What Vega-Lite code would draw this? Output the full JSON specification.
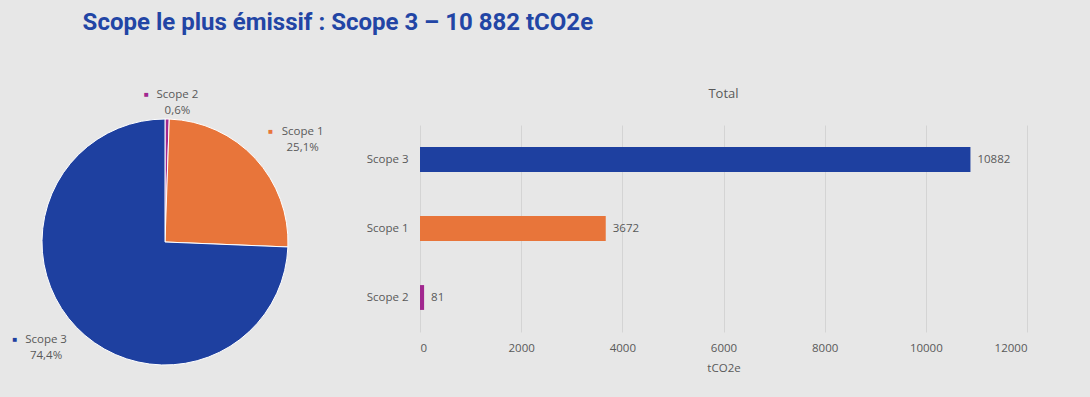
{
  "$schema": "https://vega.github.io/schema/vega-lite/v6.json",
  "background": "#e7e7e7",
  "padding": {"left": 12, "top": 11, "right": 66, "bottom": 23},
  "title": {
    "text": "Scope le plus émissif : Scope 3 – 10 882 tCO2e",
    "anchor": "start",
    "font": "Roboto",
    "fontSize": 24,
    "fontWeight": "bold",
    "color": "#2245a5",
    "dx": 70,
    "offset": 53
  },
  "datasets": {
    "scopes": [
      {"scope": "Scope 2", "value": 81, "rank": 1},
      {"scope": "Scope 1", "value": 3672, "rank": 2},
      {"scope": "Scope 3", "value": 10882, "rank": 3}
    ]
  },
  "spacing": 42,
  "hconcat": [
    {
      "width": 246,
      "height": 234,
      "data": {"name": "scopes"},
      "transform": [
        {"stack": "value", "groupby": [], "sort": [{"field": "rank", "order": "ascending"}], "as": ["s0", "s1"]},
        {"joinaggregate": [{"op": "sum", "field": "value", "as": "total"}]},
        {"calculate": "datum.value / datum.total", "as": "frac"},
        {"calculate": "datum.s0 / datum.total", "as": "a0"},
        {"calculate": "datum.s1 / datum.total", "as": "a1"},
        {"calculate": "(datum.s0 + datum.s1) / 2 / datum.total", "as": "am"},
        {"calculate": "[datum.scope, replace(format(datum.frac, '.1%'), '.', ',')]", "as": "lbl"}
      ],
      "layer": [
        {
          "mark": {"type": "arc", "outerRadius": 123, "stroke": "white", "strokeWidth": 1},
          "encoding": {
            "theta": {"field": "a0", "type": "quantitative", "scale": {"domain": [0, 1]}},
            "theta2": {"field": "a1"},
            "color": {"field": "scope", "type": "nominal", "scale": {"domain": ["Scope 3", "Scope 1", "Scope 2"], "range": ["#1e40a0", "#e8753a", "#a1278f"]}, "legend": null}
          }
        },
        {
          "transform": [{"filter": "datum.scope === 'Scope 2'"}],
          "layer": [
            {
              "mark": {"type": "text", "radius": 140, "dx": 10, "dy": -7, "font": "Open Sans", "fontSize": 11.5, "color": "#595959", "lineHeight": 16, "baseline": "middle", "align": "center"},
              "encoding": {"theta": {"field": "am", "type": "quantitative"}, "text": {"field": "lbl"}}
            },
            {
              "mark": {"type": "text", "radius": 140, "dx": -21, "dy": -7, "fontSize": 8, "baseline": "middle", "align": "center", "text": "■"},
              "encoding": {"theta": {"field": "am", "type": "quantitative"}, "color": {"field": "scope", "type": "nominal"}}
            }
          ]
        },
        {
          "transform": [{"filter": "datum.scope === 'Scope 1'"}],
          "layer": [
            {
              "mark": {"type": "text", "radius": 170, "dx": 13, "dy": 6, "font": "Open Sans", "fontSize": 11.5, "color": "#595959", "lineHeight": 16, "baseline": "middle", "align": "center"},
              "encoding": {"theta": {"field": "am", "type": "quantitative"}, "text": {"field": "lbl"}}
            },
            {
              "mark": {"type": "text", "radius": 170, "dx": -19, "dy": 6, "fontSize": 8, "baseline": "middle", "align": "center", "text": "■"},
              "encoding": {"theta": {"field": "am", "type": "quantitative"}, "color": {"field": "scope", "type": "nominal"}}
            }
          ]
        },
        {
          "transform": [{"filter": "datum.scope === 'Scope 3'"}],
          "layer": [
            {
              "mark": {"type": "text", "radius": 158, "dx": -5, "dy": -11, "font": "Open Sans", "fontSize": 11.5, "color": "#595959", "lineHeight": 16, "baseline": "middle", "align": "center"},
              "encoding": {"theta": {"field": "am", "type": "quantitative"}, "text": {"field": "lbl"}}
            },
            {
              "mark": {"type": "text", "radius": 158, "dx": -36, "dy": -11, "fontSize": 8, "baseline": "middle", "align": "center", "text": "■"},
              "encoding": {"theta": {"field": "am", "type": "quantitative"}, "color": {"field": "scope", "type": "nominal"}}
            }
          ]
        }
      ]
    },
    {
      "width": 607,
      "height": 207,
      "data": {"name": "scopes"},
      "title": {"text": "Total", "font": "Open Sans", "fontSize": 13, "fontWeight": "normal", "color": "#595959", "offset": 24, "anchor": "middle"},
      "encoding": {
        "y": {
          "field": "scope", "type": "nominal", "sort": ["Scope 3", "Scope 1", "Scope 2"],
          "scale": {"paddingInner": 0.64, "paddingOuter": 0.32},
          "axis": {"title": null, "domain": false, "ticks": false, "tickSize": 0, "labelPadding": 12, "labelFont": "Open Sans", "labelFontSize": 11.5, "labelColor": "#595959", "grid": false}
        },
        "x": {
          "field": "value", "type": "quantitative", "scale": {"domain": [0, 12000]},
          "axis": {"title": "tCO2e", "values": [0, 2000, 4000, 6000, 8000, 10000, 12000], "format": "d", "domain": false, "ticks": false, "tickSize": 0, "labelPadding": 10, "labelFont": "Open Sans", "labelFontSize": 11.5, "labelColor": "#595959", "titleFont": "Open Sans", "titleFontSize": 11.5, "titleFontWeight": "normal", "titleColor": "#595959", "titlePadding": 9, "grid": true, "gridColor": "#d4d4d4", "gridWidth": 1}
        }
      },
      "layer": [
        {
          "mark": {"type": "bar"},
          "encoding": {"color": {"field": "scope", "type": "nominal", "legend": null}}
        },
        {
          "mark": {"type": "text", "align": "left", "baseline": "middle", "dx": 7, "font": "Open Sans", "fontSize": 11.5, "color": "#595959"},
          "encoding": {"text": {"field": "value", "type": "quantitative", "format": "d"}}
        }
      ]
    }
  ],
  "config": {"view": {"stroke": null}}
}
